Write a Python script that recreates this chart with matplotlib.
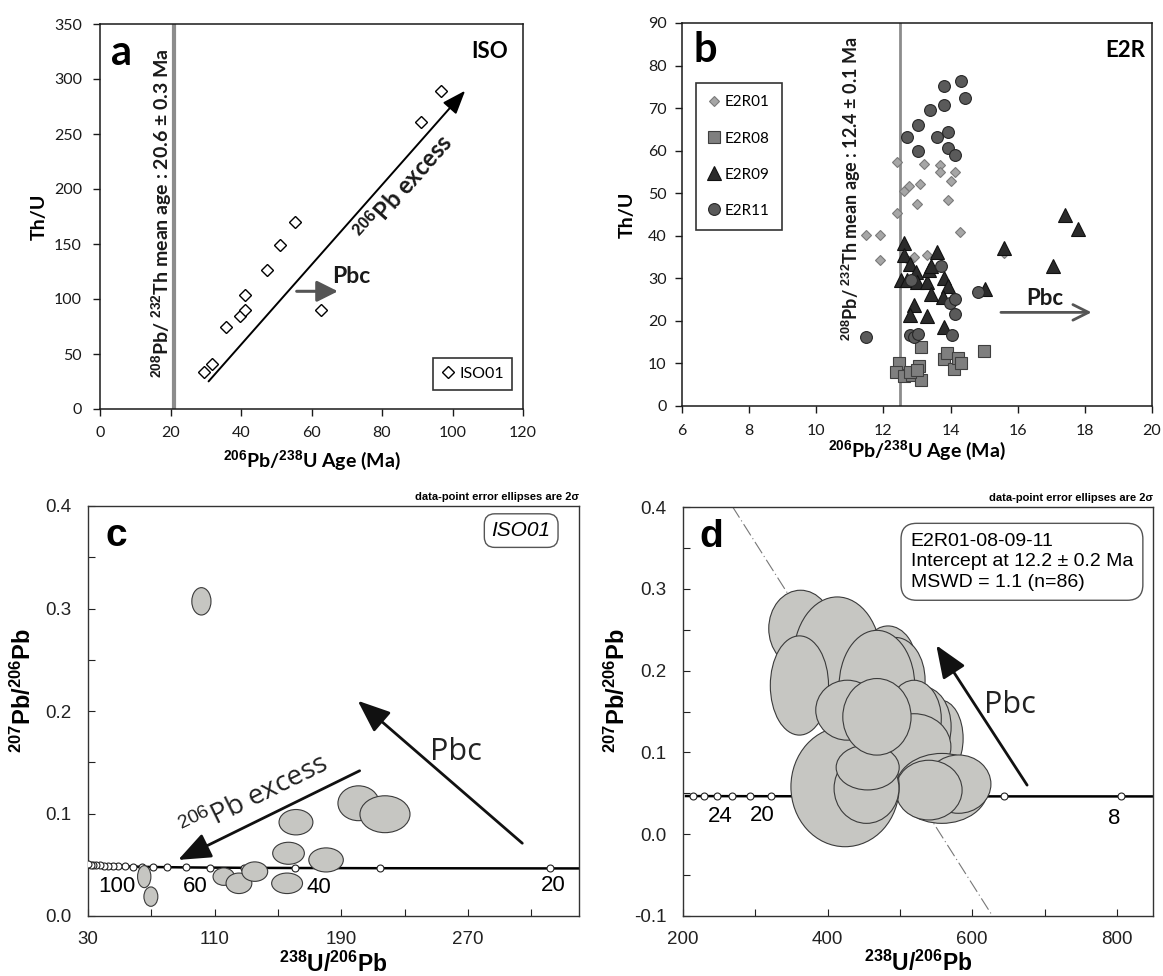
import numpy as np
import matplotlib
matplotlib.use("Agg")
import matplotlib.pyplot as plt
from matplotlib.patches import Ellipse
from matplotlib.ticker import FormatStrFormatter

# ---------------- data ----------------
# panel a : ISO01
iso01_age = [29.4, 31.8, 35.7, 39.7, 41.0, 41.0, 47.3, 51.1, 55.3, 62.8, 91.2, 96.8]
iso01_thu = [34, 41, 75, 85, 90, 104, 126, 149, 170, 90, 261, 289]
iso_th_mean_age = 21.0

# panel b : E2R
e2r01_age = [12.41, 12.41, 11.49, 11.91, 11.91, 12.62, 12.76, 13.09, 13.2, 13.0, 13.68, 13.68,
             14.12, 14.01, 13.92, 14.29, 12.9, 13.31, 15.6, 12.75]
e2r01_thu = [57.3, 45.3, 40.3, 40.3, 34.4, 50.6, 51.8, 52.2, 56.8, 47.5, 56.7, 55.0,
             55.0, 52.8, 48.3, 40.8, 35.1, 35.6, 35.9, 34.0]
e2r08_age = [12.46, 12.37, 12.6, 12.85, 13.06, 13.13, 13.12, 13.79, 13.9, 14.09, 14.23, 14.31,
             14.99, 12.8, 13.0]
e2r08_thu = [10.2, 7.9, 7.1, 7.3, 9.3, 6.1, 13.8, 11.0, 12.5, 8.7, 11.2, 10.2, 13.0, 8.0, 8.4]
e2r09_age = [12.62, 12.62, 12.51, 12.71, 12.8, 12.98, 13.01, 13.31, 13.37, 13.42, 13.61, 13.81,
             13.92, 13.77, 13.42, 12.92, 12.8, 13.31, 13.79, 15.6, 15.03, 17.04, 17.4, 17.81]
e2r09_thu = [38.3, 35.5, 29.6, 29.6, 33.4, 31.6, 29.2, 29.2, 32.0, 32.8, 36.1, 30.0,
             28.1, 25.5, 26.3, 23.8, 21.4, 21.2, 18.5, 37.1, 27.4, 32.8, 44.9, 41.5]
e2r11_age = [11.49, 12.71, 13.02, 13.02, 13.4, 13.61, 13.81, 13.81, 13.92, 13.92, 14.12, 14.31,
             14.42, 13.7, 12.82, 12.8, 12.91, 13.02, 13.98, 14.12, 14.12, 14.03, 14.81]
e2r11_thu = [16.1, 63.2, 66.1, 60.0, 69.6, 63.2, 75.3, 70.7, 64.5, 60.6, 59.0, 76.4,
             72.3, 33.0, 29.6, 16.7, 16.1, 16.9, 24.3, 25.1, 21.6, 16.7, 26.7]
e2r_th_mean_age = 12.5

# panel c : ISO01 Tera-Wasserburg ellipses (centre x, centre y, width, height)
c_x = [101.6, 65.5, 69.7, 115.7, 125.3, 135.3, 156.6, 155.7, 161.3, 180.3, 200.8, 217.5]
c_y = [0.307, 0.0384, 0.0189, 0.0384, 0.0319, 0.0433, 0.0612, 0.0319, 0.0915, 0.0547, 0.110, 0.0993]
c_w = [12.1, 8.4, 8.8, 13.5, 16.3, 16.3, 20.0, 19.5, 21.4, 21.8, 26.0, 31.6]
c_h = [0.0267, 0.0215, 0.0189, 0.017, 0.020, 0.019, 0.0215, 0.020, 0.0248, 0.0235, 0.034, 0.036]
c_marker_ages = [20, 30, 40, 50, 60, 70, 80, 90, 100, 110, 120, 130, 140, 150, 160, 170, 180, 190, 200, 210]
c_age_labels = ["100", "60", "40", "20"]
c_age_label_x = [48.0, 98.0, 175.7, 324.0]
c_age_label_y = [0.0285, 0.029, 0.028, 0.030]

# panel d : E2R01-08-09-11 ellipses
d_x = [362.6, 413.3, 481.0, 483.6, 493.8, 468.2, 556.4, 532.3, 519.5, 519.5, 558.0, 581.0,
       540.0, 424.1, 453.8, 455.4, 361.0, 427.2, 468.2]
d_y = [0.2514, 0.2147, 0.2168, 0.2046, 0.188, 0.180, 0.117, 0.1313, 0.1414, 0.1068, 0.056, 0.0612,
       0.0539, 0.058, 0.056, 0.0816, 0.1818, 0.1516, 0.1435]
d_w = [88, 121.5, 66.7, 80, 82, 105, 62, 77, 75.4, 102, 128, 89.7, 92, 149.7, 89.7, 87.2, 80.5, 87.2, 94.4]
d_h = [0.0937, 0.1507, 0.065, 0.10, 0.105, 0.1384, 0.0936, 0.0977, 0.0936, 0.081, 0.0855, 0.0713,
       0.073, 0.1466, 0.0855, 0.055, 0.1213, 0.0733, 0.0936]
d_marker_ages = [8, 10, 12, 14, 16, 18, 20, 22, 24, 26, 28, 30]
d_age_labels = ["24", "20", "8"]
d_age_label_x = [251.8, 309.0, 796.0]
d_age_label_y = [0.0213, 0.0234, 0.0193]
d_discordia_x = [268.2, 627.2]
d_discordia_y = [0.4008, -0.0988]

# decay constants (per Ma) for the concordia reference curve
L238 = 1.55125e-4
L235 = 9.8485e-4
U85 = 137.88


def tera_wasserburg(ages):
    t = np.asarray(ages, dtype=float)
    e8 = np.expm1(L238 * t)
    e5 = np.expm1(L235 * t)
    return 1.0 / e8, e5 / (e8 * U85)


# ---------------- figure ----------------
CAL = ['Lato', 'DejaVu Sans']
ARI = ['Liberation Sans', 'DejaVu Sans']
OPN = ['Open Sans', 'DejaVu Sans']
plt.rcParams['font.family'] = CAL
plt.rcParams['mathtext.fontset'] = 'custom'
plt.rcParams['mathtext.bf'] = 'Liberation Sans:bold'
plt.rcParams['mathtext.rm'] = 'Liberation Sans'

W, H = 1163, 976
fig = plt.figure(figsize=(W / 100, H / 100), dpi=100)


def add_ax(l, r, t, b):
    return fig.add_axes([l / W, 1 - b / H, (r - l) / W, (b - t) / H])


axa = add_ax(100, 523, 24, 409)
axb = add_ax(682, 1152, 23, 406)
axc = add_ax(88, 579, 506, 916)
axd = add_ax(683, 1153, 507, 916)


def disp_angle(ax, p0, p1):
    a = ax.transData.transform(p0)
    b = ax.transData.transform(p1)
    return np.degrees(np.arctan2(b[1] - a[1], b[0] - a[0]))


def style_ab(ax, xpad, ypad):
    for s in ax.spines.values():
        s.set_color('#1a1a1a')
        s.set_linewidth(1.1)
    ax.tick_params(direction='out', length=5, width=1, labelsize=11.5, colors='#1a1a1a')
    ax.tick_params(axis='x', pad=xpad)
    ax.tick_params(axis='y', pad=ypad)


def style_cd(ax):
    for s in ax.spines.values():
        s.set_color('#333333')
        s.set_linewidth(1.0)
    ax.tick_params(which='both', direction='in', length=5, width=0.8, labelsize=13.5,
                   colors='#222222', labelfontfamily='Liberation Sans')
    ax.tick_params(axis='y', which='both', pad=12)
    ax.tick_params(axis='x', which='both', pad=11)
    ax.yaxis.set_major_formatter(FormatStrFormatter('%.1f'))


# ---------------- panel a ----------------
axa.set_xlim(0, 120)
axa.set_ylim(0, 350)
axa.set_xticks(range(0, 121, 20))
axa.set_yticks(range(0, 351, 50))
style_ab(axa, 7, 8)
axa.axvline(iso_th_mean_age, color='#8c8c8c', lw=3, zorder=1)
axa.plot(iso01_age, iso01_thu, ls='none', marker='D', ms=6.2, mfc='white', mec='black',
         mew=1.0, label='ISO01', zorder=3)
axa.annotate('', xy=(103.6, 289.4), xytext=(30.8, 25.1),
             arrowprops=dict(arrowstyle='-|>,head_length=0.8,head_width=0.3', lw=1.4,
                             color='black', mutation_scale=18, shrinkA=0, shrinkB=0))
ang = disp_angle(axa, (30.8, 25.1), (103.6, 289.4))
axa.annotate('$\\mathbf{^{206}}$Pb excess', xy=(82.3, 212.0), xytext=(3, -3), textcoords='offset points',
             rotation=ang, rotation_mode='anchor', ha='center', va='top',
             fontsize=17, fontweight='bold', color='#1a1a1a')
axa.annotate('', xy=(67.5, 107), xytext=(55.8, 107),
             arrowprops=dict(arrowstyle='-|>,head_length=0.8,head_width=0.4', lw=2.2,
                             color='#555555', mutation_scale=16, shrinkA=0, shrinkB=0))
axa.text(71.2, 120.5, 'Pbc', fontsize=16.5, fontweight='bold', ha='center', va='center', color='#1a1a1a')
axa.text(17.6, 178, '$\\mathbf{^{208}}$Pb/ $\\mathbf{^{232}}$Th mean age : 20.6 ± 0.3 Ma', rotation=90,
         ha='center', va='center', fontsize=14, fontweight='bold', color='#1a1a1a')
axa.text(0.025, 0.975, 'a', transform=axa.transAxes, fontsize=30, fontweight='bold', ha='left', va='top')
axa.text(0.965, 0.955, 'ISO', transform=axa.transAxes, fontsize=16, fontweight='bold', ha='right', va='top')
axa.set_ylabel('Th/U', fontsize=14, fontweight='bold')
axa.set_xlabel('$\\mathbf{^{206}}$Pb/$\\mathbf{^{238}}$U Age (Ma)', fontsize=14, fontweight='bold')
axa.yaxis.set_label_coords(-0.123, 0.5)
axa.xaxis.set_label_coords(0.5, -0.102)
lga = axa.legend(loc='lower right', bbox_to_anchor=(0.975, 0.05), fontsize=11.5, frameon=True,
                 fancybox=False, edgecolor='black', handlelength=0.8, handletextpad=0.3,
                 borderpad=0.55, borderaxespad=0)
lga.get_frame().set_linewidth(1.2)

# ---------------- panel b ----------------
axb.set_xlim(6, 20)
axb.set_ylim(0, 90)
axb.set_xticks(range(6, 21, 2))
axb.set_yticks(range(0, 91, 10))
style_ab(axb, 8, 6)
axb.axvline(e2r_th_mean_age, color='#8c8c8c', lw=2, zorder=1)
axb.plot(e2r01_age, e2r01_thu, ls='none', marker='D', ms=5.2, mfc='#a6a6a6', mec='#7a7a7a',
         mew=0.8, label='E2R01', zorder=3)
axb.plot(e2r08_age, e2r08_thu, ls='none', marker='s', ms=8.5, mfc='#7f7f7f', mec='#3f3f3f',
         mew=0.8, label='E2R08', zorder=3)
axb.plot(e2r09_age, e2r09_thu, ls='none', marker='^', ms=10, mfc='#2b2b2b', mec='#111111',
         mew=0.8, label='E2R09', zorder=3)
axb.plot(e2r11_age, e2r11_thu, ls='none', marker='o', ms=8.5, mfc='#5a5a5a', mec='#262626',
         mew=0.8, label='E2R11', zorder=3)
axb.annotate('', xy=(18.2, 22), xytext=(15.5, 22),
             arrowprops=dict(arrowstyle='->,head_length=0.7,head_width=0.35', lw=2,
                             color='#555555', mutation_scale=16, shrinkA=0, shrinkB=0))
axb.text(16.8, 25.2, 'Pbc', fontsize=16, fontweight='bold', ha='center', va='center', color='#1a1a1a')
axb.text(11.05, 51, '$\\mathbf{^{208}}$Pb/ $\\mathbf{^{232}}$Th mean age : 12.4 ± 0.1 Ma', rotation=90,
         ha='center', va='center', fontsize=13, fontweight='bold', color='#1a1a1a')
axb.text(0.025, 0.98, 'b', transform=axb.transAxes, fontsize=30, fontweight='bold', ha='left', va='top')
axb.text(0.985, 0.955, 'E2R', transform=axb.transAxes, fontsize=16, fontweight='bold', ha='right', va='top')
axb.set_ylabel('Th/U', fontsize=14, fontweight='bold')
axb.set_xlabel('$\\mathbf{^{206}}$Pb/$\\mathbf{^{238}}$U Age (Ma)', fontsize=14, fontweight='bold')
axb.yaxis.set_label_coords(-0.098, 0.5)
axb.xaxis.set_label_coords(0.5, -0.083)
lgb = axb.legend(loc='upper left', bbox_to_anchor=(0.029, 0.843), fontsize=11, frameon=True,
                 fancybox=False, edgecolor='black', handlelength=0.8, handletextpad=0.3,
                 labelspacing=1.45, borderpad=0.8, borderaxespad=0)
lgb.get_frame().set_linewidth(1.2)

# ---------------- panel c ----------------
axc.set_xlim(30, 340)
axc.set_ylim(0, 0.4)
axc.set_xticks([30, 110, 190, 270])
axc.set_xticks([70, 150, 230, 310], minor=True)
axc.set_yticks([0.0, 0.1, 0.2, 0.3, 0.4])
axc.set_yticks([0.05, 0.15, 0.25, 0.35], minor=True)
style_cd(axc)
cx_line, cy_line = tera_wasserburg([18] + c_marker_ages)
axc.plot(cx_line, cy_line, color='black', lw=1.8, zorder=2, clip_on=True)
cmx, cmy = tera_wasserburg(c_marker_ages)
axc.plot(cmx, cmy, ls='none', marker='o', ms=5, mfc='white', mec='#222222', mew=0.8, zorder=3)
for x, y, w, h in zip(c_x, c_y, c_w, c_h):
    axc.add_patch(Ellipse((x, y), w, h, fc='#c6c6c2', ec='#3a3a3a', lw=0.8, zorder=4))
for s, x, y in zip(c_age_labels, c_age_label_x, c_age_label_y):
    axc.text(x, y, s, fontsize=16, ha='center', va='center', family=ARI, zorder=5)
axc.annotate('', xy=(86.9, 0.0547), xytext=(201.5, 0.1417),
             arrowprops=dict(arrowstyle='-|>,head_length=1.0,head_width=0.4', lw=2,
                             color='#111111', mutation_scale=20, shrinkA=0, shrinkB=0), zorder=6)
axc.annotate('', xy=(200.3, 0.210), xytext=(304.2, 0.071),
             arrowprops=dict(arrowstyle='-|>,head_length=1.0,head_width=0.4', lw=2,
                             color='#111111', mutation_scale=20, shrinkA=0, shrinkB=0), zorder=6)
angc = disp_angle(axc, (86.9, 0.0547), (201.5, 0.1417))
axc.annotate('$^{206}$Pb excess', xy=(141, 0.0957), xytext=(-2, 5), textcoords='offset points',
             rotation=angc, rotation_mode='anchor', ha='center', va='bottom', fontsize=20,
             family=OPN, color='#222222')
axc.text(262, 0.1596, 'Pbc', fontsize=22, family=OPN, ha='center', va='center', color='#222222')
axc.text(303.5, 0.376, 'ISO01', fontsize=15, family=ARI, style='italic', ha='center', va='center',
         bbox=dict(boxstyle='round,pad=0.35,rounding_size=0.5', fc='white', ec='#555555', lw=1))
axc.text(0.035, 0.97, 'c', transform=axc.transAxes, fontsize=28, fontweight='bold', family=ARI,
         ha='left', va='top')
axc.text(1.0, 1.01, 'data-point error ellipses are 2σ', transform=axc.transAxes, fontsize=8,
         fontweight='bold', family=ARI, ha='right', va='bottom')
axc.set_xlabel('$\\mathbf{^{238}}$U/$\\mathbf{^{206}}$Pb', fontsize=16.5, fontweight='bold', family=ARI)
axc.set_ylabel('$\\mathbf{^{207}}$Pb/$\\mathbf{^{206}}$Pb', fontsize=17, fontweight='bold', family=ARI)
axc.xaxis.set_label_coords(0.5, -0.086)
axc.yaxis.set_label_coords(-0.106, 0.55)

# ---------------- panel d ----------------
axd.set_xlim(200, 850)
axd.set_ylim(-0.1, 0.4)
axd.set_xticks([200, 400, 600, 800])
axd.set_xticks([300, 500, 700], minor=True)
axd.set_yticks([-0.1, 0.0, 0.1, 0.2, 0.3, 0.4])
axd.set_yticks([-0.05, 0.05, 0.15, 0.25, 0.35], minor=True)
style_cd(axd)
axd.plot(d_discordia_x, d_discordia_y, color='#777777', lw=0.8, ls=(0, (12, 3, 1, 3)), zorder=1)
dx_line, dy_line = tera_wasserburg([7.5] + d_marker_ages + [31.5])
axd.plot(dx_line, dy_line, color='black', lw=1.8, zorder=2)
dmx, dmy = tera_wasserburg(d_marker_ages)
axd.plot(dmx, dmy, ls='none', marker='o', ms=5, mfc='white', mec='#222222', mew=0.8, zorder=3)
for x, y, w, h in zip(d_x, d_y, d_w, d_h):
    axd.add_patch(Ellipse((x, y), w, h, fc='#c6c6c2', ec='#3a3a3a', lw=0.8, zorder=4))
for s, x, y in zip(d_age_labels, d_age_label_x, d_age_label_y):
    axd.text(x, y, s, fontsize=16, ha='center', va='center', family=ARI, zorder=5)
axd.annotate('', xy=(550.3, 0.231), xytext=(675.9, 0.06),
             arrowprops=dict(arrowstyle='-|>,head_length=1.0,head_width=0.4', lw=2,
                             color='#111111', mutation_scale=20, shrinkA=0, shrinkB=0), zorder=6)
axd.text(652.8, 0.1577, 'Pbc', fontsize=22, family=OPN, ha='center', va='center', color='#222222')
axd.text(515, 0.333, 'E2R01-08-09-11\nIntercept at 12.2 ± 0.2 Ma\nMSWD = 1.1 (n=86)', fontsize=14,
         family=ARI, ha='left', va='center', linespacing=1.25,
         bbox=dict(boxstyle='round,pad=0.5,rounding_size=0.8', fc='white', ec='#555555', lw=1))
axd.text(0.035, 0.97, 'd', transform=axd.transAxes, fontsize=28, fontweight='bold', family=ARI,
         ha='left', va='top')
axd.text(1.0, 1.01, 'data-point error ellipses are 2σ', transform=axd.transAxes, fontsize=8,
         fontweight='bold', family=ARI, ha='right', va='bottom')
axd.set_xlabel('$\\mathbf{^{238}}$U/$\\mathbf{^{206}}$Pb', fontsize=16.5, fontweight='bold', family=ARI)
axd.set_ylabel('$\\mathbf{^{207}}$Pb/$\\mathbf{^{206}}$Pb', fontsize=17, fontweight='bold', family=ARI)
axd.xaxis.set_label_coords(0.5, -0.086)
axd.yaxis.set_label_coords(-0.113, 0.55)

fig.savefig('out.png', dpi=100)
